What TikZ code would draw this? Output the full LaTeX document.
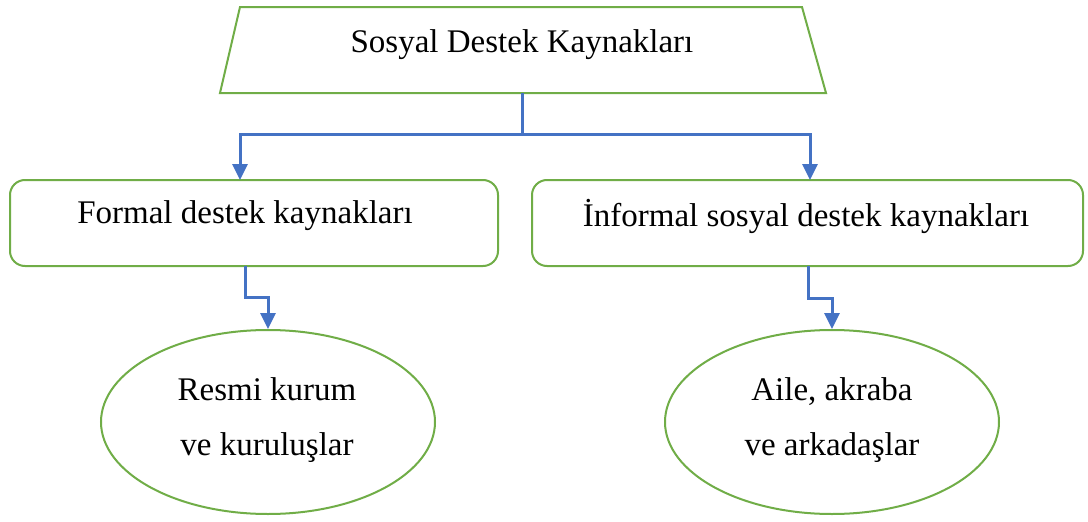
\documentclass[tikz,border=0pt]{standalone}
\usepackage{fontspec}
\setmainfont{Liberation Serif}
\usetikzlibrary{arrows.meta,shapes.geometric}
\definecolor{boxgreen}{HTML}{70AD47}
\definecolor{linkblue}{HTML}{4472C4}
\begin{document}
\begin{tikzpicture}[x=1pt,y=-1pt,
  lbl/.style={font=\fontsize{33}{55}\selectfont, align=center, inner sep=0},
  rbox/.style={draw=boxgreen, line width=2pt, rounded corners=15pt, fill=white},
  oval/.style={draw=boxgreen, line width=2pt, ellipse, minimum width=334pt, minimum height=184pt, inner sep=0, fill=white},
  link/.style={draw=linkblue, line width=3pt, -{Triangle[width=15pt,length=16pt]}}
]
\useasboundingbox (0,0) rectangle (1088,522);
% top trapezoid
\draw[draw=boxgreen, line width=2pt, fill=white] (240,7) -- (802,7) -- (826,93) -- (220,93) -- cycle;
\coordinate (topb) at (522,93);
\node[lbl] (top) at (522,45) {Sosyal Destek Kaynakları};
% second row
\draw[rbox] (10,180) rectangle (498,266);
\node[lbl] (formal) at (245,216) {Formal destek kaynakları};
\draw[rbox] (532,180) rectangle (1083,266);
\node[lbl] (informal) at (806,216) {İnformal sosyal destek kaynakları};
\coordinate (ftop) at (240,180);
\coordinate (itop) at (810,180);
\coordinate (fbot) at (245,266);
\coordinate (ibot) at (808,266);
% ellipses
\node[oval] (resmi) at (268,422) {};
\node[lbl] (resmit) at (267,420) {Resmi kurum\\ve kuruluşlar};
\node[oval] (aile) at (832,422) {};
\node[lbl] (ailet) at (832,420) {Aile, akraba\\ve arkadaşlar};
% connectors
\draw[link] (topb) -- (522,134) -| (ftop);
\draw[link] (topb) -- (522,134) -| (itop);
\draw[link] (fbot) -- (245,297) -| (resmi.north);
\draw[link] (ibot) -- (808,298) -| (aile.north);
\end{tikzpicture}
\end{document}
